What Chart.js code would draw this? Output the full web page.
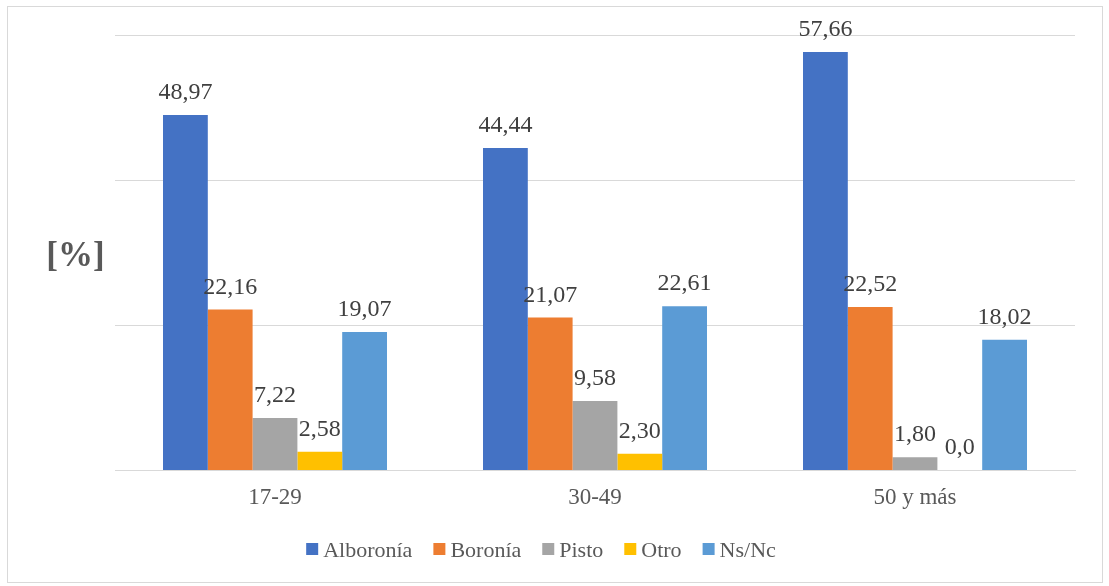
<!DOCTYPE html>
<html>
<head>
<meta charset="utf-8">
<script src="https://cdn.jsdelivr.net/npm/chart.js@4.4.1/dist/chart.umd.min.js"></script>
<style>
  html, body { margin: 0; padding: 0; background: #fff; }
  #wrap { width: 1109px; height: 586px; }
</style>
</head>
<body>
<div id="wrap"><canvas id="chart" width="1109" height="586"></canvas></div>
<script>
// age groups and the answers given in each one (percent)
const groups = ["17-29", "30-49", "50 y más"];
const seriesNames = ["Alboronía", "Boronía", "Pisto", "Otro", "Ns/Nc"];
const alboronia = [48.97, 44.44, 57.66];
const boronia = [22.16, 21.07, 22.52];
const pisto = [7.22, 9.58, 1.80];
const otro = [2.58, 2.30, 0.0];
const nsnc = [19.07, 22.61, 18.02];
// value labels as printed above the bars
const alboroniaLabels = ["48,97", "44,44", "57,66"];
const boroniaLabels = ["22,16", "21,07", "22,52"];
const pistoLabels = ["7,22", "9,58", "1,80"];
const otroLabels = ["2,58", "2,30", "0,0"];
const nsncLabels = ["19,07", "22,61", "18,02"];
const yTicks = [0, 20, 40, 60];

const colors = ["#4472C4", "#ED7D31", "#A5A5A5", "#FFC000", "#5B9BD5"];
const values = [alboronia, boronia, pisto, otro, nsnc];
const labels = [alboroniaLabels, boroniaLabels, pistoLabels, otroLabels, nsncLabels];

const serif = "'Liberation Serif', 'Times New Roman', serif";

// outer frame around the whole chart
const framePlugin = {
  id: "frame",
  beforeDraw(chart) {
    const ctx = chart.ctx;
    ctx.save();
    ctx.fillStyle = "#fff";
    ctx.fillRect(0, 0, chart.width, chart.height);
    ctx.strokeStyle = "#d9d9d9";
    ctx.lineWidth = 1;
    ctx.strokeRect(7.5, 6.5, chart.width - 14, chart.height - 10);
    ctx.restore();
  }
};

// value text above each bar
const valueLabels = {
  id: "valueLabels",
  afterDatasetsDraw(chart) {
    const ctx = chart.ctx;
    ctx.save();
    ctx.font = "24px " + serif;
    ctx.fillStyle = "#404040";
    ctx.textAlign = "center";
    ctx.textBaseline = "alphabetic";
    chart.data.datasets.forEach((ds, i) => {
      const meta = chart.getDatasetMeta(i);
      meta.data.forEach((bar, j) => {
        ctx.fillText(labels[i][j], bar.x, bar.y - 16);
      });
    });
    ctx.restore();
  }
};

// horizontal "[%]" title left of the plot
const unitTitle = {
  id: "unitTitle",
  afterDraw(chart) {
    const area = chart.chartArea;
    const ctx = chart.ctx;
    ctx.save();
    ctx.font = "bold 35px " + serif;
    ctx.fillStyle = "#595959";
    ctx.textAlign = "center";
    ctx.textBaseline = "middle";
    ctx.fillText("[%]", 75.5, (area.top + area.bottom) / 2 + 4);
    ctx.restore();
  }
};

// series key under the axis, one row, centred a bit left of the plot
const legendRow = {
  id: "legendRow",
  afterDraw(chart) {
    const ctx = chart.ctx;
    const box = 12, gapText = 5, gapItem = 21;
    ctx.save();
    ctx.font = "22px " + serif;
    const widths = seriesNames.map(n => ctx.measureText(n).width);
    const total = widths.reduce((a, w) => a + box + gapText + w, 0) + gapItem * (seriesNames.length - 1);
    let x = 541 - total / 2;
    const baseline = 557;
    seriesNames.forEach((name, i) => {
      ctx.fillStyle = colors[i];
      ctx.fillRect(x, baseline - 14, box, box);
      x += box + gapText;
      ctx.fillStyle = "#595959";
      ctx.textAlign = "left";
      ctx.textBaseline = "alphabetic";
      ctx.fillText(name, x, baseline);
      x += widths[i] + gapItem;
    });
    ctx.restore();
  }
};

new Chart(document.getElementById("chart"), {
  type: "bar",
  data: {
    labels: groups,
    datasets: seriesNames.map((name, i) => ({
      label: name,
      data: values[i],
      backgroundColor: colors[i],
      borderWidth: 0,
      categoryPercentage: 0.7,
      barPercentage: 1.0
    }))
  },
  options: {
    responsive: false,
    animation: false,
    layout: { padding: { left: 115, right: 34, top: 35, bottom: 60 } },
    scales: {
      x: {
        grid: { display: false, drawTicks: false },
        border: { display: true, color: "#d9d9d9" },
        ticks: { color: "#595959", font: { family: serif, size: 23 }, padding: 14 }
      },
      y: {
        min: 0,
        max: 60,
        afterBuildTicks(scale) {
          scale.ticks = yTicks.map(v => ({ value: v }));
        },
        grid: { color: "#d9d9d9", drawTicks: false },
        border: { display: false },
        ticks: { display: false }
      }
    },
    plugins: {
      legend: { display: false },
      tooltip: { enabled: false }
    }
  },
  plugins: [framePlugin, valueLabels, unitTitle, legendRow]
});
</script>
</body>
</html>
